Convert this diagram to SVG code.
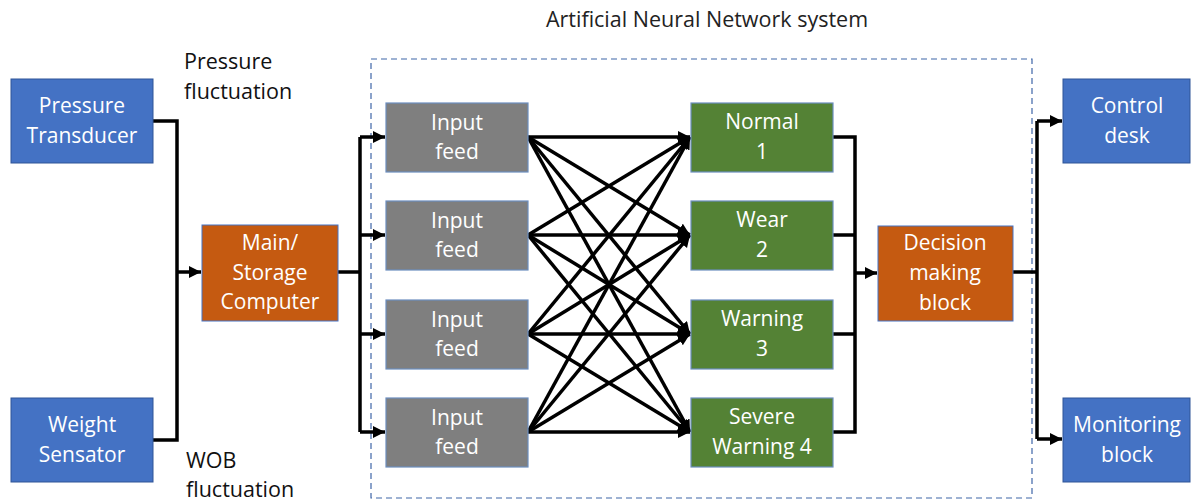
<svg xmlns="http://www.w3.org/2000/svg" width="1204" height="503" viewBox="0 0 1204 503">
<style>
.t{font-family:"Open Sans","Liberation Sans",sans-serif;font-size:21px;fill:#fff;text-anchor:middle}
.l{font-family:"Open Sans","Liberation Sans",sans-serif;font-size:21.5px;fill:#111}
.blue{fill:#4472C4;stroke:#2F5597;stroke-width:1}
.org{fill:#C55A11;stroke:#4472C4;stroke-width:1}
.gray{fill:#7F7F7F;stroke:#6C8EBF;stroke-width:1.2}
.grn{fill:#548235;stroke:#6C8EBF;stroke-width:1.2}
.c{fill:none;stroke:#000;stroke-width:3.5}
</style>
<defs>
<marker id="ah" markerUnits="userSpaceOnUse" markerWidth="14" markerHeight="14" refX="12" refY="6" orient="auto">
<path d="M0,0 L12,6 L0,12 Z" fill="#000"/>
</marker>
</defs>
<text x="707" y="27" class="l" text-anchor="middle" style="fill:#222">Artificial Neural Network system</text>
<rect x="371" y="59" width="661" height="439" fill="none" stroke="#3F66A8" stroke-width="1.2" stroke-dasharray="6,4"/>
<text x="184" y="69" class="l">Pressure</text>
<text x="184" y="99" class="l">fluctuation</text>
<text x="186" y="468" class="l">WOB</text>
<text x="186" y="497" class="l">fluctuation</text>
<g id="connectors">
<path class="c" d="M153,121 H177 V440 H153"/>
<path class="c" d="M177,272 H201" marker-end="url(#ah)"/>
<path class="c" d="M338,272 H360"/>
<path class="c" d="M360,137 V432"/>
<path class="c" d="M360,137 H385" marker-end="url(#ah)"/>
<path class="c" d="M360,235 H385" marker-end="url(#ah)"/>
<path class="c" d="M360,334 H385" marker-end="url(#ah)"/>
<path class="c" d="M360,432 H385" marker-end="url(#ah)"/>
<g marker-end="url(#ah)">
<path class="c" d="M528,137 L690,137"/>
<path class="c" d="M528,137 L690,235"/>
<path class="c" d="M528,137 L690,334"/>
<path class="c" d="M528,137 L690,432"/>
<path class="c" d="M528,235 L690,137"/>
<path class="c" d="M528,235 L690,235"/>
<path class="c" d="M528,235 L690,334"/>
<path class="c" d="M528,235 L690,432"/>
<path class="c" d="M528,334 L690,137"/>
<path class="c" d="M528,334 L690,235"/>
<path class="c" d="M528,334 L690,334"/>
<path class="c" d="M528,334 L690,432"/>
<path class="c" d="M528,432 L690,137"/>
<path class="c" d="M528,432 L690,235"/>
<path class="c" d="M528,432 L690,334"/>
<path class="c" d="M528,432 L690,432"/>
</g>
<path class="c" d="M833,137 H855 V432 H833"/>
<path class="c" d="M833,235 H855"/>
<path class="c" d="M833,334 H855"/>
<path class="c" d="M855,273 H877" marker-end="url(#ah)"/>
<path class="c" d="M1013,272 H1037"/>
<path class="c" d="M1037,121 V439"/>
<path class="c" d="M1037,121 H1062" marker-end="url(#ah)"/>
<path class="c" d="M1037,439 H1062" marker-end="url(#ah)"/>
</g>
<g id="pressure-transducer"><rect class="blue" x="11" y="79" width="142" height="84"/><text class="t" x="82" y="113">Pressure</text><text class="t" x="82" y="143">Transducer</text></g>
<g id="weight-sensator"><rect class="blue" x="11" y="398" width="142" height="84"/><text class="t" x="82" y="432">Weight</text><text class="t" x="82" y="462">Sensator</text></g>
<g id="main-computer"><rect class="org" x="202" y="225" width="136" height="96"/><text class="t" x="270" y="250">Main/</text><text class="t" x="270" y="280">Storage</text><text class="t" x="270" y="309">Computer</text></g>
<g id="input1"><rect class="gray" x="386" y="103" width="142" height="69"/><text class="t" x="457" y="130">Input</text><text class="t" x="457" y="159">feed</text></g>
<g id="input2"><rect class="gray" x="386" y="201" width="142" height="69"/><text class="t" x="457" y="228">Input</text><text class="t" x="457" y="257">feed</text></g>
<g id="input3"><rect class="gray" x="386" y="300" width="142" height="69"/><text class="t" x="457" y="327">Input</text><text class="t" x="457" y="356">feed</text></g>
<g id="input4"><rect class="gray" x="386" y="398" width="142" height="69"/><text class="t" x="457" y="425">Input</text><text class="t" x="457" y="454">feed</text></g>
<g id="normal"><rect class="grn" x="691" y="103" width="142" height="69"/><text class="t" x="762" y="129">Normal</text><text class="t" x="762" y="159">1</text></g>
<g id="wear"><rect class="grn" x="691" y="201" width="142" height="69"/><text class="t" x="762" y="227">Wear</text><text class="t" x="762" y="257">2</text></g>
<g id="warning"><rect class="grn" x="691" y="300" width="142" height="69"/><text class="t" x="762" y="326">Warning</text><text class="t" x="762" y="356">3</text></g>
<g id="severe"><rect class="grn" x="691" y="398" width="142" height="69"/><text class="t" x="762" y="424">Severe</text><text class="t" x="762" y="454">Warning 4</text></g>
<g id="decision"><rect class="org" x="878" y="226" width="135" height="95"/><text class="t" x="945" y="250">Decision</text><text class="t" x="945" y="280">making</text><text class="t" x="945" y="310">block</text></g>
<g id="control-desk"><rect class="blue" x="1063" y="79" width="127" height="84"/><text class="t" x="1127" y="113">Control</text><text class="t" x="1127" y="143">desk</text></g>
<g id="monitoring"><rect class="blue" x="1063" y="398" width="127" height="84"/><text class="t" x="1127" y="432">Monitoring</text><text class="t" x="1127" y="462">block</text></g>
</svg>
